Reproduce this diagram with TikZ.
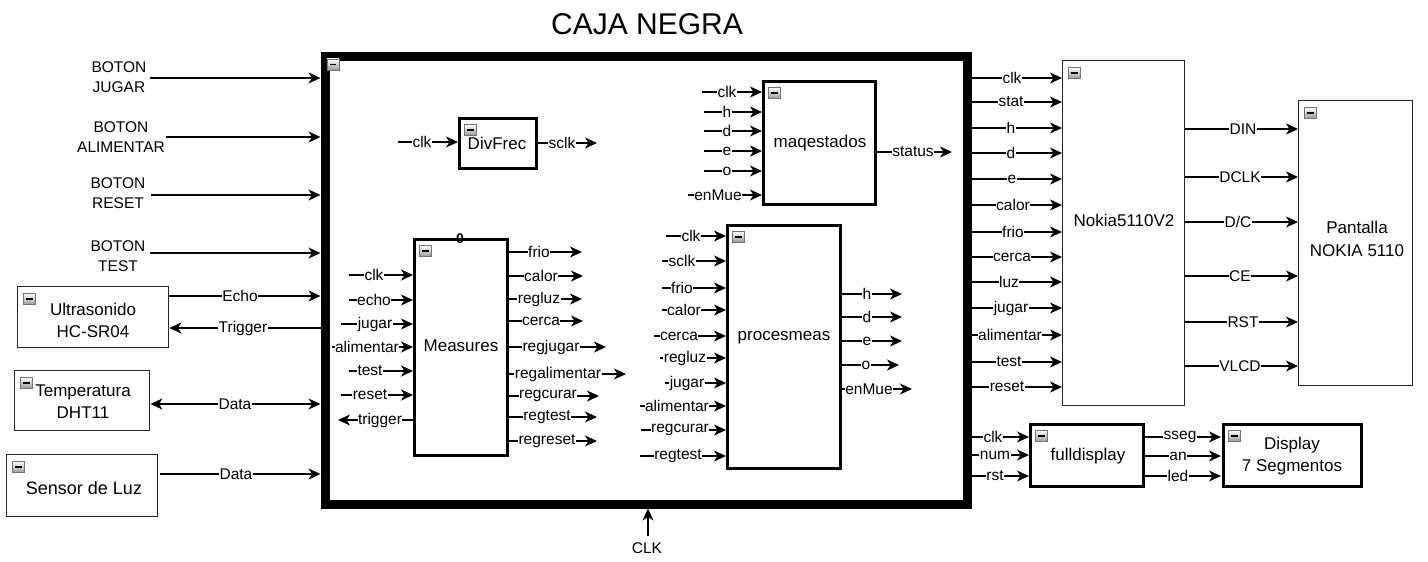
\documentclass[tikz,border=0pt]{standalone}
\usepackage{fontspec}
\setmainfont{Liberation Sans}
\usetikzlibrary{arrows.meta,calc}
\newcount\pinno
\newcommand\pin[5]{%
  \global\advance\pinno by 1
  \draw[wire] (#1,#3) coordinate (ps\the\pinno) -- (#2,#3) coordinate (pe\the\pinno);
  \node[lbl] (pl\the\pinno) at (#4,#3) {#5};}
\newcommand\mico[1]{\node[mbtn] (m#1) at ($(#1.north west)+(6,7)$) {\rule[-0.8pt]{6.5pt}{1.6pt}};}
\begin{document}
\begin{tikzpicture}[x=1pt,y=-1pt,
  >={Stealth[length=12pt,width=11pt,inset=3.5pt]},
  wire/.style={line width=1.4pt,->},
  lbl/.style={fill=white,inner xsep=0.5pt,inner ysep=1pt,font=\fontsize{15.5}{18}\selectfont},
  thinbox/.style={draw=black!85,line width=1.4pt,fill=white,anchor=north west,inner sep=0pt},
  thickbox/.style={draw,line width=3pt,fill=white,anchor=north west,inner sep=0pt},
  boxtext/.style={font=\fontsize{17}{22}\selectfont,align=center,inner sep=0pt},
  btntext/.style={font=\fontsize{15.5}{20}\selectfont,align=center,inner sep=0pt},
  mbtn/.style={draw=black!55,line width=0.8pt,top color=white,bottom color=black!40,
    minimum width=12pt,minimum height=11pt,inner sep=0pt,anchor=north west}]
\fill[white] (0,0) rectangle (1428,562);
\useasboundingbox (0,0) rectangle (1428,562);

% title
\node[font=\fontsize{30}{30}\selectfont,inner sep=0pt] (title) at (647,24) {CAJA NEGRA};

% black box
\node[draw,line width=9pt,minimum width=642pt,minimum height=448pt,anchor=north west,inner sep=0pt,fill=white] (big) at (320.5,51.5) {};
\mico{big}

% inner blocks
\node[thickbox,minimum width=77pt,minimum height=50pt] (divfrec) at (458,117) {};
\node[thickbox,minimum width=93pt,minimum height=216pt] (meas) at (413,238) {};
\node[thickbox,minimum width=112pt,minimum height=123pt] (maq) at (762,80) {};
\node[thickbox,minimum width=113pt,minimum height=243pt] (proc) at (726,224) {};
\mico{divfrec}\mico{meas}\mico{maq}\mico{proc}
\node[boxtext] (tdiv) at (497,143) {DivFrec};
\node[boxtext] (tmeas) at (461,346) {Measures};
\node[boxtext] (tmaq) at (820,143) {maqestados};
\node[boxtext] (tproc) at (784,338) {procesmeas};
\node[inner sep=0pt,font=\bfseries\fontsize{14}{14}\selectfont] (zero) at (460,239) {0};

% right blocks
\node[thinbox,minimum width=122pt,minimum height=345pt] (nokia) at (1062,60) {};
\node[thinbox,minimum width=114pt,minimum height=285pt] (pant) at (1298,100) {};
\node[thickbox,minimum width=113pt,minimum height=62pt] (full) at (1029,423) {};
\node[thickbox,minimum width=138pt,minimum height=62pt] (disp) at (1222,423) {};
\mico{nokia}\mico{pant}\mico{full}\mico{disp}
\node[boxtext] (tnok) at (1124,220) {Nokia5110V2};
\node[boxtext,font=\fontsize{17}{23}\selectfont] (tpant) at (1357,238.5) {Pantalla\\NOKIA 5110};
\node[boxtext] (tfull) at (1088,456) {fulldisplay};
\node[boxtext] (tdisp) at (1292,456) {Display\\7 Segmentos};

% left blocks
\node[thinbox,minimum width=151pt,minimum height=61pt] (ultra) at (17,286) {};
\node[thinbox,minimum width=135pt,minimum height=60pt] (temp) at (14,370) {};
\node[thinbox,minimum width=151pt,minimum height=62pt] (luz) at (6,454) {};
\mico{ultra}\mico{temp}\mico{luz}
\node[boxtext] (tultra) at (93,320) {Ultrasonido\\HC-SR04};
\node[boxtext] (ttemp) at (83,401.5) {Temperatura\\DHT11};
\node[boxtext,font=\fontsize{18}{22}\selectfont] (tluz) at (84,488) {Sensor de Luz};

% buttons
\node[btntext] (bj) at (119,77) {BOTON\\JUGAR};
\node[btntext] (ba) at (121,137) {BOTON\\ALIMENTAR};
\node[btntext] (br) at (118,193) {BOTON\\RESET};
\node[btntext] (bt) at (118,256.5) {BOTON\\TEST};
\draw[wire] (150,78) -- (big.west |- 0,78);
\draw[wire] (166,137) -- (big.west |- 0,137);
\draw[wire] (151,195) -- (big.west |- 0,195);
\draw[wire] (150,253) -- (big.west |- 0,253);

% sensors
\draw[wire] (ultra.east |- 0,296) -- (big.west |- 0,296);
\node[lbl] (echo) at (240,296) {Echo};
\draw[wire] (big.west |- 0,328) -- (ultra.east |- 0,328);
\node[lbl] (trig) at (243,328) {Trigger};
\draw[wire,<->] (temp.east |- 0,404) -- (big.west |- 0,404);
\node[lbl] (dat1) at (235,404) {Data};
\draw[wire] (160,474) -- (big.west |- 0,474);
\node[lbl] (dat2) at (236,474) {Data};

% CLK
\node[btntext] (clkt) at (647,548) {CLK};
\coordinate (clkb) at (648,536);
\draw[wire] (clkb) -- (big.south -| clkb);

% DivFrec
\pin{398}{458}{142}{422}{clk}
\pin{538}{597}{143}{562}{sclk}

% Measures inputs
\pin{349}{413}{275}{374}{clk}
\pin{349}{413}{300}{374}{echo}
\pin{341}{413}{324}{375}{jugar}
\pin{332}{413}{347}{367}{alimentar}
\pin{349}{413}{371}{370}{test}
\pin{341}{413}{395}{370}{reset}
\pin{413}{338}{420}{380}{trigger}
% Measures outputs
\pin{509}{582}{252}{539}{frio}
\pin{509}{583}{276}{541}{calor}
\pin{509}{582}{299}{539}{regluz}
\pin{509}{583}{321}{541}{cerca}
\pin{509}{606}{347}{551}{regjugar}
\pin{509}{626}{374}{558}{regalimentar}
\pin{509}{599}{396}{548}{regcurar}
\pin{509}{597}{417}{547}{regtest}
\pin{509}{597}{441}{547}{regreset}

% maqestados
\pin{702}{762}{92}{727}{clk}
\pin{704}{762}{112}{727}{h}
\pin{704}{762}{131}{727}{d}
\pin{704}{762}{151}{727}{e}
\pin{704}{762}{171}{727}{o}
\pin{688}{762}{195}{718}{enMue}
\pin{877}{952}{152}{913}{status}

% procesmeas inputs
\pin{666}{726}{236}{691}{clk}
\pin{662}{726}{261}{682}{sclk}
\pin{662}{726}{288}{682}{frio}
\pin{662}{726}{310}{684}{calor}
\pin{654}{726}{336}{679}{cerca}
\pin{660}{726}{358}{685}{regluz}
\pin{665}{726}{383}{687}{jugar}
\pin{640}{726}{406}{677}{alimentar}
\pin{641}{726}{430}{680}{regcurar}
\pin{640}{726}{456}{678}{regtest}
% procesmeas outputs
\pin{842}{902}{294}{867}{h}
\pin{842}{902}{317}{867}{d}
\pin{842}{902}{341}{867}{e}
\pin{842}{899}{365}{866}{o}
\pin{842}{912}{389}{869}{enMue}

% Nokia inputs
\pin{972}{1062}{78}{1012}{clk}
\pin{972}{1062}{102}{1011}{stat}
\pin{972}{1062}{128}{1011}{h}
\pin{972}{1062}{153}{1011}{d}
\pin{972}{1062}{179}{1012}{e}
\pin{972}{1062}{205}{1013}{calor}
\pin{972}{1062}{232}{1013}{frio}
\pin{972}{1062}{257}{1012}{cerca}
\pin{972}{1062}{282}{1009}{luz}
\pin{972}{1062}{308}{1011}{jugar}
\pin{972}{1062}{335}{1010}{alimentar}
\pin{972}{1062}{362}{1009}{test}
\pin{972}{1062}{387}{1007}{reset}

% Nokia -> Pantalla
\pin{1185}{1298}{129}{1243}{DIN}
\pin{1185}{1298}{177}{1240}{DCLK}
\pin{1185}{1298}{222}{1238}{D/C}
\pin{1185}{1298}{276}{1240}{CE}
\pin{1185}{1298}{322}{1243}{RST}
\pin{1185}{1298}{366}{1240}{VLCD}

% fulldisplay
\pin{972}{1029}{437}{993}{clk}
\pin{972}{1029}{455}{995}{num}
\pin{972}{1029}{476}{995}{rst}
\pin{1145}{1221}{437}{1180}{sseg}
\pin{1145}{1221}{456}{1178}{an}
\pin{1145}{1221}{476}{1178}{led}
\end{tikzpicture}
\end{document}
